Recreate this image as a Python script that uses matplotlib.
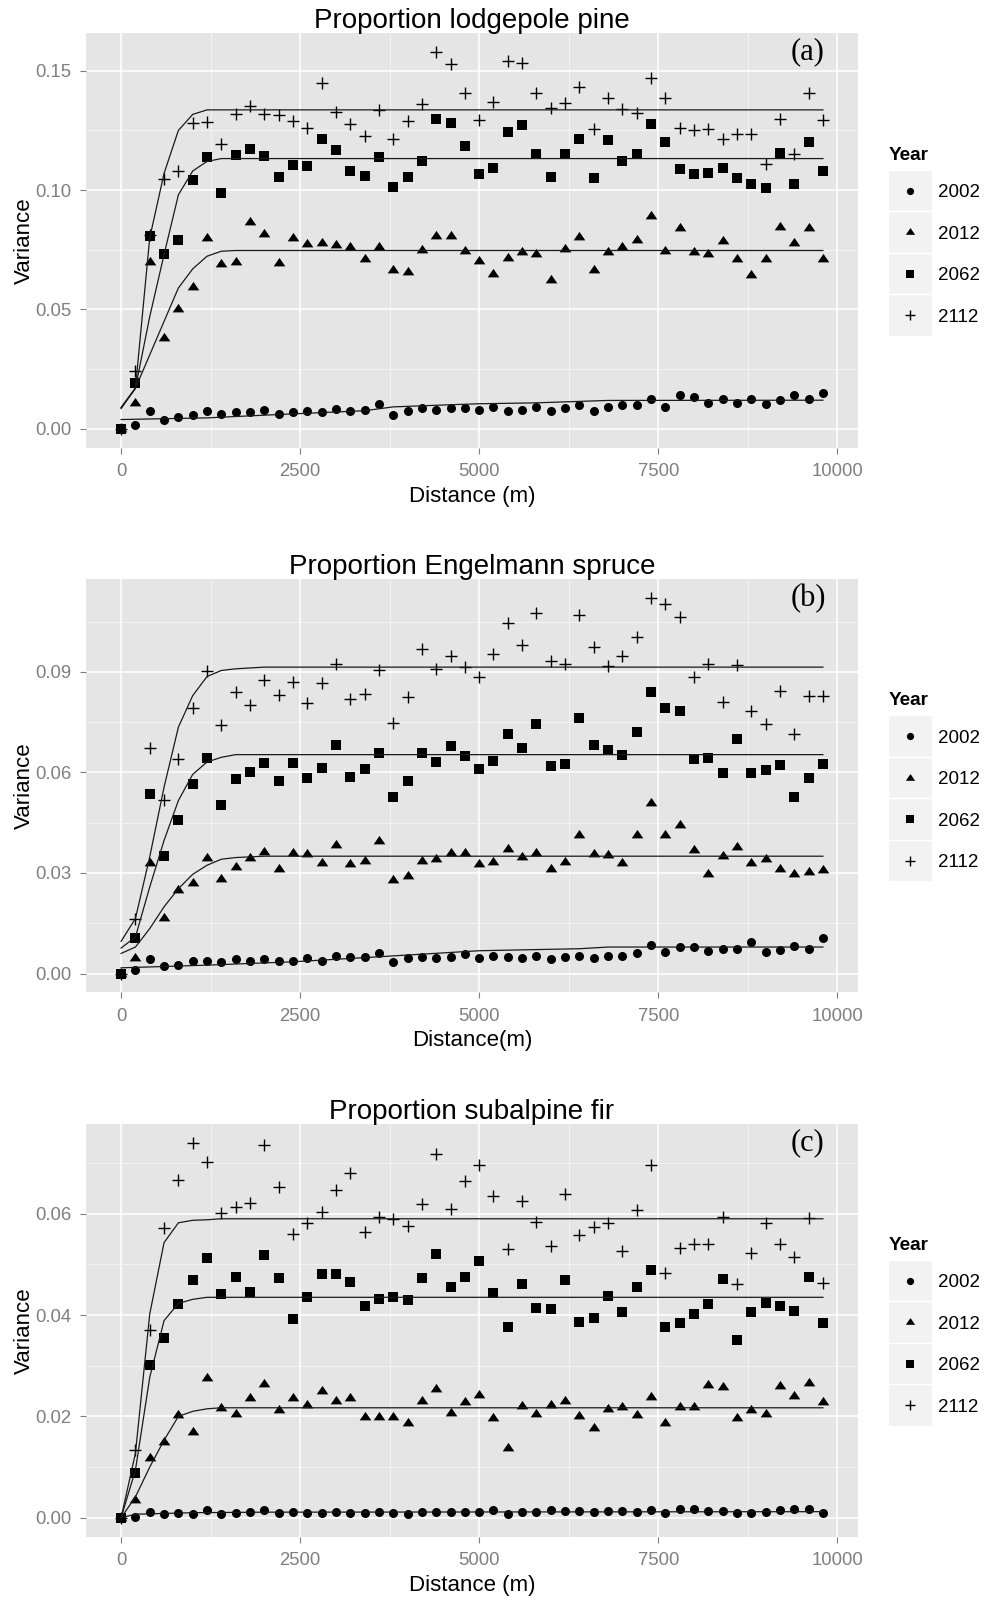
import matplotlib
matplotlib.use('Agg')
import matplotlib.pyplot as plt
import numpy as np
from matplotlib.patches import Rectangle
from matplotlib.ticker import FixedLocator

plt.rcParams['font.family'] = ['Liberation Sans', 'DejaVu Sans']

#lag distances (m)
distance = [0, 200, 400, 600, 800, 1000, 1200, 1400, 1600, 1800,
            2000, 2200, 2400, 2600, 2800, 3000, 3200, 3400, 3600, 3800,
            4000, 4200, 4400, 4600, 4800, 5000, 5200, 5400, 5600, 5800,
            6000, 6200, 6400, 6600, 6800, 7000, 7200, 7400, 7600, 7800,
            8000, 8200, 8400, 8600, 8800, 9000, 9200, 9400, 9600, 9800]

years = ['2002', '2012', '2062', '2112']

#(a) lodgepole pine, empirical variance
a2002 = [0.0000, 0.0018, 0.0074, 0.0039, 0.0050, 0.0060, 0.0074, 0.0064, 0.0071, 0.0071,
         0.0081, 0.0064, 0.0071, 0.0074, 0.0070, 0.0085, 0.0074, 0.0080, 0.0105, 0.0060,
         0.0074, 0.0088, 0.0081, 0.0088, 0.0088, 0.0081, 0.0092, 0.0074, 0.0081, 0.0092,
         0.0074, 0.0088, 0.0098, 0.0074, 0.0092, 0.0098, 0.0099, 0.0127, 0.0092, 0.0140,
         0.0134, 0.0109, 0.0127, 0.0109, 0.0127, 0.0102, 0.0120, 0.0140, 0.0126, 0.0151]
a2012 = [0.0000, 0.0109, 0.0699, 0.0381, 0.0500, 0.0595, 0.0800, 0.0689, 0.0699, 0.0866,
         0.0817, 0.0696, 0.0800, 0.0775, 0.0780, 0.0768, 0.0761, 0.0712, 0.0761, 0.0664,
         0.0658, 0.0749, 0.0807, 0.0807, 0.0745, 0.0703, 0.0647, 0.0717, 0.0740, 0.0731,
         0.0623, 0.0754, 0.0805, 0.0664, 0.0742, 0.0763, 0.0791, 0.0891, 0.0745, 0.0842,
         0.0740, 0.0731, 0.0787, 0.0712, 0.0644, 0.0712, 0.0847, 0.0780, 0.0842, 0.0710]
a2062 = [0.0000, 0.0193, 0.0806, 0.0733, 0.0791, 0.1041, 0.1140, 0.0989, 0.1146, 0.1173,
         0.1143, 0.1056, 0.1106, 0.1101, 0.1213, 0.1169, 0.1081, 0.1060, 0.1140, 0.1014,
         0.1056, 0.1123, 0.1299, 0.1282, 0.1185, 0.1069, 0.1094, 0.1245, 0.1271, 0.1150,
         0.1056, 0.1152, 0.1215, 0.1049, 0.1208, 0.1122, 0.1150, 0.1275, 0.1203, 0.1087,
         0.1069, 0.1070, 0.1091, 0.1049, 0.1027, 0.1007, 0.1157, 0.1024, 0.1203, 0.1080]
a2112 = [0.0000, 0.0242, 0.0814, 0.1045, 0.1080, 0.1282, 0.1287, 0.1194, 0.1317, 0.1352,
         0.1317, 0.1315, 0.1289, 0.1259, 0.1447, 0.1329, 0.1278, 0.1227, 0.1334, 0.1215,
         0.1289, 0.1362, 0.1579, 0.1527, 0.1408, 0.1294, 0.1369, 0.1541, 0.1534, 0.1408,
         0.1345, 0.1363, 0.1432, 0.1254, 0.1387, 0.1338, 0.1324, 0.1468, 0.1387, 0.1259,
         0.1250, 0.1254, 0.1215, 0.1236, 0.1234, 0.1111, 0.1299, 0.1150, 0.1408, 0.1294]

#(b) Engelmann spruce
b2002 = [0.0000, 0.0010, 0.0042, 0.0022, 0.0025, 0.0038, 0.0038, 0.0033, 0.0043, 0.0037,
         0.0043, 0.0037, 0.0037, 0.0047, 0.0038, 0.0053, 0.0050, 0.0050, 0.0062, 0.0033,
         0.0047, 0.0050, 0.0047, 0.0050, 0.0057, 0.0047, 0.0053, 0.0050, 0.0045, 0.0053,
         0.0042, 0.0050, 0.0053, 0.0045, 0.0053, 0.0053, 0.0062, 0.0086, 0.0063, 0.0079,
         0.0079, 0.0067, 0.0074, 0.0074, 0.0094, 0.0063, 0.0070, 0.0082, 0.0074, 0.0106]
b2012 = [0.0000, 0.0045, 0.0331, 0.0166, 0.0248, 0.0271, 0.0346, 0.0281, 0.0318, 0.0346,
         0.0364, 0.0313, 0.0360, 0.0356, 0.0331, 0.0382, 0.0326, 0.0336, 0.0394, 0.0280,
         0.0291, 0.0335, 0.0341, 0.0359, 0.0360, 0.0326, 0.0333, 0.0370, 0.0348, 0.0359,
         0.0313, 0.0333, 0.0412, 0.0357, 0.0353, 0.0330, 0.0412, 0.0508, 0.0414, 0.0442,
         0.0367, 0.0298, 0.0350, 0.0377, 0.0331, 0.0341, 0.0313, 0.0298, 0.0303, 0.0308]
b2062 = [0.0000, 0.0107, 0.0536, 0.0350, 0.0459, 0.0566, 0.0642, 0.0503, 0.0581, 0.0601,
         0.0628, 0.0574, 0.0628, 0.0584, 0.0613, 0.0682, 0.0586, 0.0609, 0.0658, 0.0526,
         0.0574, 0.0658, 0.0631, 0.0678, 0.0648, 0.0611, 0.0633, 0.0715, 0.0673, 0.0745,
         0.0619, 0.0626, 0.0763, 0.0682, 0.0667, 0.0652, 0.0720, 0.0839, 0.0792, 0.0784,
         0.0640, 0.0643, 0.0599, 0.0700, 0.0599, 0.0608, 0.0621, 0.0526, 0.0584, 0.0626]
b2112 = [0.0000, 0.0164, 0.0672, 0.0518, 0.0640, 0.0791, 0.0901, 0.0742, 0.0839, 0.0801,
         0.0876, 0.0831, 0.0871, 0.0806, 0.0867, 0.0923, 0.0819, 0.0834, 0.0906, 0.0747,
         0.0824, 0.0968, 0.0909, 0.0948, 0.0914, 0.0886, 0.0953, 0.1046, 0.0981, 0.1074,
         0.0933, 0.0923, 0.1070, 0.0973, 0.0917, 0.0948, 0.1005, 0.1120, 0.1102, 0.1063,
         0.0884, 0.0923, 0.0811, 0.0919, 0.0782, 0.0743, 0.0842, 0.0715, 0.0829, 0.0827]

#(c) subalpine fir
c2002 = [0.0000, 0.0002, 0.0012, 0.0007, 0.0009, 0.0007, 0.0015, 0.0007, 0.0009, 0.0012,
         0.0015, 0.0009, 0.0012, 0.0009, 0.0009, 0.0012, 0.0009, 0.0009, 0.0012, 0.0009,
         0.0007, 0.0012, 0.0012, 0.0012, 0.0012, 0.0012, 0.0015, 0.0007, 0.0012, 0.0012,
         0.0015, 0.0014, 0.0014, 0.0012, 0.0014, 0.0014, 0.0012, 0.0015, 0.0009, 0.0017,
         0.0017, 0.0014, 0.0014, 0.0009, 0.0009, 0.0012, 0.0015, 0.0017, 0.0017, 0.0009]
c2012 = [0.0000, 0.0035, 0.0117, 0.0150, 0.0202, 0.0169, 0.0276, 0.0217, 0.0204, 0.0237,
         0.0263, 0.0212, 0.0236, 0.0223, 0.0250, 0.0230, 0.0237, 0.0199, 0.0199, 0.0199,
         0.0187, 0.0230, 0.0254, 0.0207, 0.0228, 0.0243, 0.0197, 0.0138, 0.0220, 0.0204,
         0.0222, 0.0230, 0.0201, 0.0178, 0.0214, 0.0218, 0.0202, 0.0239, 0.0187, 0.0218,
         0.0218, 0.0262, 0.0258, 0.0197, 0.0213, 0.0205, 0.0260, 0.0241, 0.0266, 0.0228]
c2062 = [0.0000, 0.0089, 0.0302, 0.0355, 0.0422, 0.0469, 0.0512, 0.0441, 0.0476, 0.0445,
         0.0518, 0.0473, 0.0392, 0.0436, 0.0481, 0.0481, 0.0466, 0.0418, 0.0431, 0.0435,
         0.0429, 0.0473, 0.0520, 0.0456, 0.0475, 0.0507, 0.0443, 0.0377, 0.0461, 0.0414,
         0.0412, 0.0469, 0.0387, 0.0394, 0.0438, 0.0407, 0.0456, 0.0489, 0.0377, 0.0384,
         0.0402, 0.0422, 0.0471, 0.0351, 0.0407, 0.0424, 0.0418, 0.0408, 0.0475, 0.0384]
c2112 = [0.0000, 0.0133, 0.0371, 0.0572, 0.0666, 0.0740, 0.0702, 0.0602, 0.0613, 0.0622,
         0.0736, 0.0653, 0.0559, 0.0582, 0.0604, 0.0646, 0.0681, 0.0563, 0.0594, 0.0590,
         0.0576, 0.0620, 0.0718, 0.0609, 0.0664, 0.0697, 0.0635, 0.0531, 0.0626, 0.0584,
         0.0536, 0.0638, 0.0557, 0.0574, 0.0582, 0.0527, 0.0608, 0.0697, 0.0483, 0.0533,
         0.0541, 0.0541, 0.0594, 0.0461, 0.0522, 0.0582, 0.0541, 0.0515, 0.0592, 0.0463]

#fitted model curves, read as (distance, variance) breakpoints
a_fit_d = {'2002': [0, 1200, 2200, 3400, 3800, 4600, 5000, 5800, 6800, 9800],
           '2012': [0, 200, 400, 600, 800, 1000, 1200, 1400, 1600, 9800],
           '2062': [0, 200, 400, 600, 800, 1000, 1200, 1400, 9800],
           '2112': [0, 200, 400, 600, 800, 1000, 1200, 9800]}
a_fit_v = {'2002': [0.0039, 0.0046, 0.0060, 0.0076, 0.0092, 0.0101, 0.0105, 0.0109, 0.0119, 0.0120],
           '2012': [0.0090, 0.0170, 0.0310, 0.0450, 0.0590, 0.0670, 0.0723, 0.0744, 0.0747, 0.0747],
           '2062': [0.0085, 0.0170, 0.0470, 0.0730, 0.0980, 0.1080, 0.1120, 0.1132, 0.1132],
           '2112': [0.0088, 0.0170, 0.0800, 0.1070, 0.1250, 0.1317, 0.1336, 0.1336]}

b_fit_d = {'2002': [0, 1200, 2400, 3600, 5000, 6400, 6800, 9800],
           '2012': [0, 200, 400, 600, 800, 1000, 1200, 1400, 1600, 2000, 9800],
           '2062': [0, 200, 400, 600, 800, 1000, 1200, 1400, 1600, 9800],
           '2112': [0, 200, 400, 600, 800, 1000, 1200, 1400, 1600, 2000, 9800]}
b_fit_v = {'2002': [0.0017, 0.0025, 0.0035, 0.0050, 0.0068, 0.0074, 0.0079, 0.0079],
           '2012': [0.0060, 0.0079, 0.0134, 0.0199, 0.0253, 0.0296, 0.0323, 0.0341, 0.0346, 0.0350, 0.0350],
           '2062': [0.0076, 0.0109, 0.0258, 0.0397, 0.0516, 0.0594, 0.0631, 0.0645, 0.0653, 0.0653],
           '2112': [0.0096, 0.0164, 0.0348, 0.0556, 0.0735, 0.0829, 0.0886, 0.0904, 0.0909, 0.0914, 0.0914]}

c_fit_d = {'2002': [0, 200, 1000, 2000, 9800],
           '2012': [0, 200, 400, 600, 800, 1000, 1200, 1400, 9800],
           '2062': [0, 200, 400, 600, 800, 1000, 1200, 9800],
           '2112': [0, 200, 400, 600, 800, 1000, 1200, 1400, 9800]}
c_fit_v = {'2002': [0.0000, 0.0007, 0.0010, 0.0011, 0.0012],
           '2012': [0.0000, 0.0041, 0.0100, 0.0153, 0.0200, 0.0210, 0.0215, 0.0217, 0.0217],
           '2062': [0.0000, 0.0094, 0.0277, 0.0389, 0.0423, 0.0431, 0.0435, 0.0435],
           '2112': [0.0000, 0.0127, 0.0402, 0.0543, 0.0582, 0.0587, 0.0588, 0.0590, 0.0590]}

titles = ['Proportion lodgepole pine', 'Proportion Engelmann spruce', 'Proportion subalpine fir']
tags = ['(a)', '(b)', '(c)']
xlabels = ['Distance (m)', 'Distance(m)', 'Distance (m)']
x_ticks = [0, 2500, 5000, 7500, 10000]
x_minor = [1250, 3750, 6250, 8750]
y_ticks = [[0, 0.05, 0.10, 0.15], [0, 0.03, 0.06, 0.09], [0, 0.02, 0.04, 0.06]]
y_minor = [[0.025, 0.075, 0.125], [0.015, 0.045, 0.075, 0.105], [0.01, 0.03, 0.05, 0.07]]

points = [[a2002, a2012, a2062, a2112], [b2002, b2012, b2062, b2112], [c2002, c2012, c2062, c2112]]
fits = [(a_fit_d, a_fit_v), (b_fit_d, b_fit_v), (c_fit_d, c_fit_v)]

#marker look per year (ggplot shapes 16, 17, 15, 3)
tri = [(-1.35, -0.67), (1.35, -0.67), (0, 1.3)]
styles = {'2002': dict(marker='o', ms=6.5, mew=0),
          '2012': dict(marker=tri, ms=8.4, mew=0),
          '2062': dict(marker='s', ms=6.8, mew=0),
          '2112': dict(marker='+', ms=8.8, mew=1.0)}
leg_scale = 0.8

W, H = 987, 1597
fig = plt.figure(figsize=(W / 100, H / 100), dpi=100)
left_px, right_px = 86, 858
panels_px = [(33, 447.7), (579.3, 992.3), (1124, 1536.5)]
grey50 = '#7F7F7F'

for k in range(3):
    top, bot = panels_px[k]
    ax = fig.add_axes([left_px / W, 1 - bot / H, (right_px - left_px) / W, (bot - top) / H])
    ax.set_facecolor('#E5E5E5')
    for s in ax.spines.values():
        s.set_visible(False)

    #points then fitted lines
    for yr, vals in zip(years, points[k]):
        ax.plot(distance, vals, linestyle='none', color='black', zorder=3, **styles[yr])
    fd, fv = fits[k]
    for yr in years:
        ax.plot(fd[yr], fv[yr], color='#1a1a1a', lw=0.9, zorder=4)

    #ggplot style 5% expansion
    ymax = max(max(v) for v in points[k])
    ax.set_xlim(-0.05 * 9800, 9800 * 1.05)
    ax.set_ylim(-0.05 * ymax, ymax * 1.05)

    ax.xaxis.set_major_locator(FixedLocator(x_ticks))
    ax.xaxis.set_minor_locator(FixedLocator(x_minor))
    ax.yaxis.set_major_locator(FixedLocator(y_ticks[k]))
    ax.yaxis.set_minor_locator(FixedLocator(y_minor[k]))
    ax.set_xticklabels([str(t) for t in x_ticks])
    ax.set_yticklabels(['%.2f' % t for t in y_ticks[k]])
    ax.grid(which='major', color='white', lw=1.15)
    ax.grid(which='minor', color='#F7F7F7', lw=0.55)
    ax.set_axisbelow(True)
    ax.tick_params(which='major', length=4.3, width=0.8, color=grey50, labelcolor=grey50, labelsize=13.3)
    ax.tick_params(axis='x', which='major', pad=7)
    ax.tick_params(axis='y', which='major', pad=6)
    ax.tick_params(which='minor', length=0)

    ax.set_xlabel(xlabels[k], fontsize=16)
    ax.xaxis.set_label_coords(0.5, -38 / (bot - top))
    ax.set_ylabel('Variance', fontsize=16)
    ax.yaxis.set_label_coords((34.6 - left_px) / (right_px - left_px), 0.5)

    ax.text(0.5, 1 + 5 / (bot - top), titles[k], transform=ax.transAxes,
            ha='center', va='baseline', fontsize=20)
    ax.text((808 - left_px) / (right_px - left_px), 1 - 19 / (bot - top), tags[k],
            transform=ax.transAxes, ha='center', va='center', fontsize=22,
            family='Liberation Serif')

    #legend drawn by hand in pixel units
    cy = (top + bot) / 2
    lax = fig.add_axes([880 / W, 1 - (cy + 110) / H, 107 / W, 220 / H])
    lax.set_xlim(880, 987)
    lax.set_ylim(cy + 110, cy - 110)
    lax.axis('off')
    lax.text(889, cy - 85, 'Year', fontsize=13.6, fontweight='bold', ha='left', va='center')
    for j, yr in enumerate(years):
        ktop = cy - 70.4 + 41.5 * j
        lax.add_patch(Rectangle((888.3, ktop), 43.4, 41.5, fc='#F2F2F2', ec='white', lw=1))
        st = dict(styles[yr])
        st['ms'] = st['ms'] * leg_scale
        lax.plot([910.2], [ktop + 20.75], color='black', linestyle='none', **st)
        lax.text(938.3, ktop + 23, yr, fontsize=13.5, ha='left', va='center')

fig.savefig('out.png', dpi=100)
